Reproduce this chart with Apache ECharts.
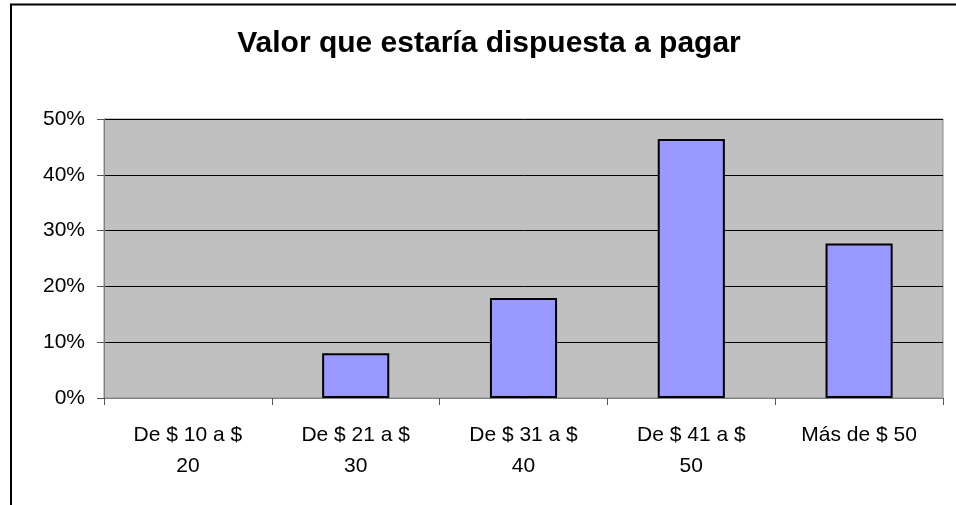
<!DOCTYPE html>
<html lang="es">

<head>
    <meta charset="UTF-8" />
    <title>Valor que estaría dispuesta a pagar</title>
    <script src="https://cdn.jsdelivr.net/npm/echarts@6.0.0/dist/echarts.min.js"></script>
    <style>
        html, body { margin: 0; padding: 0; background: #fff; }
        #main { width: 956px; height: 505px; }
    </style>
</head>

<body>
    <div id="main"></div>

    <script type="text/javascript">
        // data
        const categories = ["De $ 10 a $\n20", "De $ 21 a $\n30", "De $ 31 a $\n40", "De $ 41 a $\n50", "Más de $ 50"];
        const values = [0, 8.0, 17.9, 46.4, 27.7];
        const yTicks = [0, 10, 20, 30, 40, 50];

        const font = "'Liberation Sans', Arial, sans-serif";

        let myChart = echarts.init(document.getElementById("main"));

        // a zero bar is not drawn at all in the original, so drop its outline
        let barData = values.map((v) => v === 0 ? { value: v, itemStyle: { borderWidth: 0 } } : v);

        let options = {
            animation: false,
            backgroundColor: "#ffffff",
            title: {
                text: "Valor que estaría dispuesta a pagar",
                left: 484,
                top: 24,
                textAlign: "center",
                textStyle: { fontFamily: font, fontSize: 30, fontWeight: "bold", color: "#000" }
            },
            graphic: [
                {
                    // outer chart frame (only top and left edges visible)
                    type: "rect",
                    shape: { x: 11, y: 4.5, width: 1000, height: 600 },
                    style: { fill: "none", stroke: "#000", lineWidth: 2 },
                    silent: true
                }
            ],
            grid: {
                left: 104,
                top: 119,
                right: 13,
                bottom: 107,
                show: true,
                backgroundColor: "#C0C0C0",
                borderColor: "#8c8c8c",
                borderWidth: 1
            },
            xAxis: {
                type: "category",
                data: categories,
                axisLine: { lineStyle: { color: "#808080", width: 1 } },
                axisTick: { show: true, alignWithLabel: false, length: 7, lineStyle: { color: "#555" } },
                axisLabel: {
                    fontFamily: font,
                    fontSize: 21,
                    color: "#000",
                    margin: 22,
                    lineHeight: 31,
                    interval: 0
                }
            },
            yAxis: {
                type: "value",
                min: yTicks[0],
                max: yTicks[yTicks.length - 1],
                interval: 10,
                axisLine: { show: true, lineStyle: { color: "#808080", width: 1 } },
                axisTick: { show: true, length: 7, lineStyle: { color: "#555" } },
                splitLine: { show: true, lineStyle: { color: "#000", width: 1 } },
                axisLabel: {
                    fontFamily: font,
                    fontSize: 21,
                    color: "#000",
                    margin: 19,
                    formatter: (v) => v + "%"
                }
            },
            series: [
                {
                    type: "bar",
                    data: barData,
                    barWidth: "40%",
                    itemStyle: { color: "#9999FF", borderColor: "#000", borderWidth: 2 }
                }
            ]
        };

        myChart.setOption(options);
    </script>
</body>

</html>
